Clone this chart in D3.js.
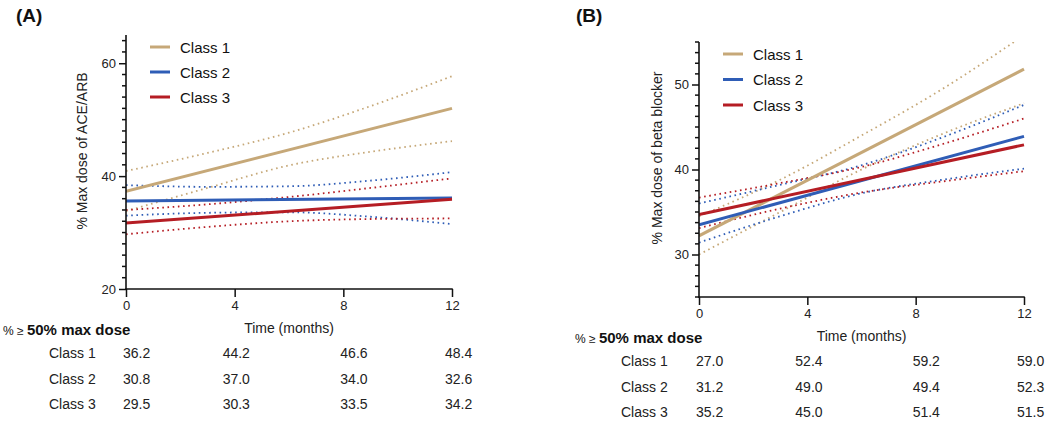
<!DOCTYPE html>
<html>
<head>
<meta charset="utf-8">
<script src="https://cdn.jsdelivr.net/npm/d3@7"></script>
<style>
  html, body { margin: 0; padding: 0; background: #fff; }
  svg { display: block; font-family: "Liberation Sans", Arial, Helvetica, sans-serif; }
</style>
</head>
<body>
<svg id="chart" width="1050" height="424"></svg>
<script>
// ---------------- DATA ----------------
const classNames = ["Class 1", "Class 2", "Class 3"];
const fitMonths = [0, 12];
const ciMonths = [0, 3, 6, 9, 12];
const tableMonths = [0, 4, 8, 12];
const xTicks = [0, 4, 8, 12];

// Panel A: ACE/ARB
const aceTicksMajor = [20, 40, 60];
const aceFitClass1 = [37.3, 52.0];
const aceFitClass2 = [35.6, 36.1];
const aceFitClass3 = [31.7, 35.9];
const aceUpperClass1 = [40.9, 44.1, 47.7, 52.4, 57.7];
const aceLowerClass1 = [33.8, 37.9, 41.9, 44.3, 46.2];
const aceUpperClass2 = [38.4, 38.1, 38.2, 39.2, 40.7];
const aceLowerClass2 = [33.0, 33.5, 33.6, 32.8, 31.5];
const aceUpperClass3 = [34.0, 35.0, 36.3, 37.9, 39.6];
const aceLowerClass3 = [29.7, 31.0, 32.0, 32.4, 32.5];
const aceTableClass1 = [36.2, 44.2, 46.6, 48.4];
const aceTableClass2 = [30.8, 37.0, 34.0, 32.6];
const aceTableClass3 = [29.5, 30.3, 33.5, 34.2];

// Panel B: beta blocker
const bbTicksMajor = [30, 40, 50];
const bbFitClass1 = [32.2, 51.8];
const bbFitClass2 = [33.5, 43.9];
const bbFitClass3 = [34.7, 42.9];
const bbUpperClass1 = [34.5, 38.8, 44.0, 49.5, 55.8];
const bbLowerClass1 = [30.0, 35.0, 40.0, 44.2, 47.8];
const bbUpperClass2 = [36.0, 38.2, 40.5, 43.8, 47.6];
const bbLowerClass2 = [31.4, 34.5, 37.2, 38.8, 40.1];
const bbUpperClass3 = [36.7, 38.4, 40.3, 43.0, 46.0];
const bbLowerClass3 = [33.1, 35.4, 37.3, 38.6, 39.8];
const bbTableClass1 = [27.0, 52.4, 59.2, 59.0];
const bbTableClass2 = [31.2, 49.0, 49.4, 52.3];
const bbTableClass3 = [35.2, 45.0, 51.4, 51.5];

// ---------------- STYLE ----------------
const colors = ["#C6A878", "#2F5DB6", "#B51D24"];
const svg = d3.select("#chart");

function drawPanel(cfg) {
  const g = svg.append("g");
  const x = d3.scaleLinear().domain([0, 12]).range([cfg.x0, cfg.x1]);
  const y = d3.scaleLinear().domain(cfg.yDomain).range([cfg.yBot, cfg.yTop]);

  // Panel letter
  g.append("text").attr("x", cfg.letterX).attr("y", 22)
    .attr("font-size", 19).attr("font-weight", "bold").attr("fill", "#111")
    .text(cfg.letter);

  // clip
  const clipId = "clip" + cfg.letter.replace(/\W/g, "");
  svg.append("clipPath").attr("id", clipId).append("rect")
    .attr("x", cfg.x0).attr("y", cfg.yTop).attr("width", cfg.x1 - cfg.x0 + 2).attr("height", cfg.yBot - cfg.yTop);

  const plot = g.append("g").attr("clip-path", `url(#${clipId})`);
  const lineFit = d3.line().x((d, i) => x(fitMonths[i])).y(d => y(d));
  const lineCI = d3.line().x((d, i) => x(ciMonths[i])).y(d => y(d)).curve(d3.curveMonotoneX);

  // CI dotted lines
  cfg.ci.forEach((pair, k) => {
    pair.forEach(arr => {
      plot.append("path").attr("d", lineCI(arr)).attr("fill", "none")
        .attr("stroke", colors[k]).attr("stroke-width", 1.8)
        .attr("stroke-dasharray", "1.6,3.6");
    });
  });
  // Fit lines
  cfg.fits.forEach((arr, k) => {
    plot.append("path").attr("d", lineFit(arr)).attr("fill", "none")
      .attr("stroke", colors[k]).attr("stroke-width", 3);
  });

  // Y axis
  const yAxis = d3.axisLeft(y).tickValues(cfg.yMajor).tickSize(7).tickPadding(3).tickFormat(d3.format("d"));
  const ya = g.append("g").attr("transform", `translate(${cfg.x0},0)`).call(yAxis);
  ya.select(".domain").remove();
  ya.selectAll("line").attr("stroke", "#111").attr("stroke-width", 1.5);
  ya.selectAll("text").attr("font-size", 13).attr("fill", "#222").attr("font-family", "Liberation Sans, Arial, sans-serif");
  const minor = d3.range(cfg.yDomain[0], cfg.yDomain[1] + 0.001, cfg.yMinorStep)
    .filter(v => !cfg.yMajor.some(m => Math.abs(m - v) < 1e-6));
  g.append("g").selectAll("line").data(minor).join("line")
    .attr("x1", cfg.x0 - 4).attr("x2", cfg.x0).attr("y1", d => y(d)).attr("y2", d => y(d))
    .attr("stroke", "#111").attr("stroke-width", 1.5);
  g.append("line").attr("x1", cfg.x0).attr("x2", cfg.x0).attr("y1", cfg.yTop).attr("y2", cfg.yBot + 0.75)
    .attr("stroke", "#111").attr("stroke-width", 1.6);

  // X axis
  const xAxis = d3.axisBottom(x).tickValues(xTicks).tickSize(8).tickPadding(4).tickFormat(d3.format("d"));
  const xa = g.append("g").attr("transform", `translate(0,${cfg.yBot})`).call(xAxis);
  xa.select(".domain").remove();
  xa.selectAll("line").attr("stroke", "#111").attr("stroke-width", 1.5);
  xa.selectAll("text").attr("font-size", 13).attr("fill", "#222").attr("font-family", "Liberation Sans, Arial, sans-serif");
  g.append("line").attr("x1", cfg.x0 - 0.75).attr("x2", cfg.x1 + 0.75).attr("y1", cfg.yBot).attr("y2", cfg.yBot)
    .attr("stroke", "#111").attr("stroke-width", 1.6);

  // Axis titles
  g.append("text").attr("transform", `translate(${cfg.yLabelX},${cfg.yLabelY}) rotate(-90)`)
    .attr("text-anchor", "middle").attr("font-size", 14).attr("fill", "#222").text(cfg.yLabel);
  g.append("text").attr("x", (cfg.x0 + cfg.x1) / 2).attr("y", cfg.yBot + 44)
    .attr("text-anchor", "middle").attr("font-size", 14).attr("fill", "#222").text("Time (months)");

  // Legend
  classNames.forEach((name, k) => {
    const ly = cfg.legY + k * cfg.legStep;
    g.append("line").attr("x1", cfg.legX).attr("x2", cfg.legX + 20).attr("y1", ly).attr("y2", ly)
      .attr("stroke", colors[k]).attr("stroke-width", 3);
    g.append("text").attr("x", cfg.legX + 30).attr("y", ly + 5.5).attr("font-size", 15).attr("fill", "#111").text(name);
  });

  // Table
  const head = g.append("text").attr("x", cfg.tableHeadX).attr("y", cfg.yBot + 46).attr("fill", "#111");
  head.append("tspan").attr("font-size", 12).text("% \u2265 ");
  head.append("tspan").attr("font-size", 15).attr("font-weight", "bold").text("50% max dose");

  const colNudge = [-3, -12, -3, -7];
  cfg.table.forEach((row, k) => {
    const by = cfg.yBot + 69 + k * 25.5;
    g.append("text").attr("x", cfg.tableLabelX).attr("y", by).attr("font-size", 14).attr("fill", "#222").text(classNames[k]);
    row.forEach((v, j) => {
      g.append("text").attr("x", x(tableMonths[j]) + colNudge[j]).attr("y", by)
        .attr("font-size", 14).attr("fill", "#222").text(v.toFixed(1));
    });
  });
}

drawPanel({
  letter: "(A)", letterX: 16,
  x0: 126, x1: 452, yTop: 35, yBot: 289,
  yDomain: [20, 65], yMajor: aceTicksMajor, yMinorStep: 2,
  yLabel: "% Max dose of ACE/ARB", yLabelX: 87, yLabelY: 151,
  fits: [aceFitClass1, aceFitClass2, aceFitClass3],
  ci: [[aceUpperClass1, aceLowerClass1], [aceUpperClass2, aceLowerClass2], [aceUpperClass3, aceLowerClass3]],
  legX: 150, legY: 47, legStep: 25,
  tableHeadX: 3, tableLabelX: 49,
  table: [aceTableClass1, aceTableClass2, aceTableClass3]
});

drawPanel({
  letter: "(B)", letterX: 576,
  x0: 699, x1: 1024, yTop: 42, yBot: 297,
  yDomain: [25, 55], yMajor: bbTicksMajor, yMinorStep: 1.25,
  yLabel: "% Max dose of beta blocker", yLabelX: 662, yLabelY: 158,
  fits: [bbFitClass1, bbFitClass2, bbFitClass3],
  ci: [[bbUpperClass1, bbLowerClass1], [bbUpperClass2, bbLowerClass2], [bbUpperClass3, bbLowerClass3]],
  legX: 723, legY: 54, legStep: 25.5,
  tableHeadX: 575, tableLabelX: 621,
  table: [bbTableClass1, bbTableClass2, bbTableClass3]
});
</script>
</body>
</html>
